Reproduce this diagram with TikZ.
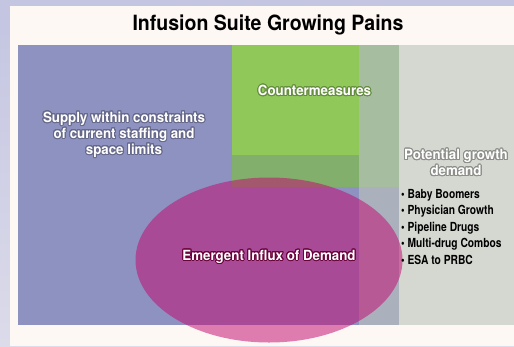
\documentclass[tikz,border=0pt]{standalone}
\usepackage{fontspec}
\usepackage{contour}
\setmainfont{TeX Gyre Heros}
\newfontfamily\titlefont{TeX Gyre Heros}[FakeStretch=0.93]
\newfontfamily\labelfont{TeX Gyre Heros}[FakeStretch=0.95]
\newfontfamily\listfont{TeX Gyre Heros}[FakeStretch=0.82]
\contourlength{1pt}
\contournumber{20}
\definecolor{frameTop}{HTML}{C3C5E1}
\definecolor{frameBot}{HTML}{DCDBEA}
\definecolor{paper}{HTML}{FEF8F4}
\definecolor{supply}{HTML}{8E92C0}
\definecolor{counter}{HTML}{90C95A}
\definecolor{counterlow}{HTML}{82B06C}
\definecolor{stripup}{HTML}{A6BE9F}
\definecolor{striplow}{HTML}{AAB1BD}
\definecolor{growth}{HTML}{D4D8D0}
\definecolor{influx}{RGB}{195,5,110}
\colorlet{supplyhalo}{supply!72!black}
\colorlet{counterhalo}{counter!70!black}
\colorlet{growthhalo}{growth!66!black}
\colorlet{influxhalo}{influx!55!black}
\tikzset{
  lbl/.style={font=\labelfont\fontsize{14}{16}\selectfont\bfseries, align=center, inner sep=0pt, text=white},
  bullets/.style={font=\listfont\fontsize{12.5}{16.5}\selectfont\bfseries, align=left, inner sep=0pt, text=black},
  titletext/.style={font=\titlefont\fontsize{21}{24}\selectfont\bfseries, inner sep=0pt, text=black},
}
\begin{document}
\begin{tikzpicture}[x=1pt, y=-1pt]
\useasboundingbox (0,0) rectangle (514,346);
% frame and paper
\shade[top color=frameTop, bottom color=frameBot] (0,0) rectangle (514,346);
\fill[paper] (10,6) rectangle (514,346);
% title
\node[titletext] (title) at (268,25) {Infusion Suite Growing Pains};
% regions
\fill[supply] (18,45) rectangle (359,325);
\fill[growth] (399,45) rectangle (514,325);
\fill[stripup] (359,45) rectangle (399,187);
\fill[striplow] (359,187) rectangle (399,325);
\fill[counter] (232,45) rectangle (359,155);
\fill[counterlow] (232,155) rectangle (359,187);
% emergent demand ellipse
\fill[influx, fill opacity=0.51] (269,260) ellipse [x radius=133.5, y radius=82.5];
% labels with a dark halo
\node[lbl] (supplytext) at (124,135) {\contour{supplyhalo}{Supply within constraints}\\
  \contour{supplyhalo}{of current staffing and}\\
  \contour{supplyhalo}{space limits}};
\node[lbl] (countertext) at (314.5,91) {\contour{counterhalo}{Countermeasures}};
\node[lbl] (growthtext) at (456,163) {\contour{growthhalo}{Potential growth}\\
  \contour{growthhalo}{demand}};
\node[lbl] (influxtext) at (269,257) {\contour{influxhalo}{Emergent Influx of Demand}};
\node[bullets, anchor=north west] (drivers) at (401,189) {%
  \textbullet\ Baby Boomers\\
  \textbullet\ Physician Growth\\
  \textbullet\ Pipeline Drugs\\
  \textbullet\ Multi-drug Combos\\
  \textbullet\ ESA to PRBC};
\end{tikzpicture}
\end{document}
